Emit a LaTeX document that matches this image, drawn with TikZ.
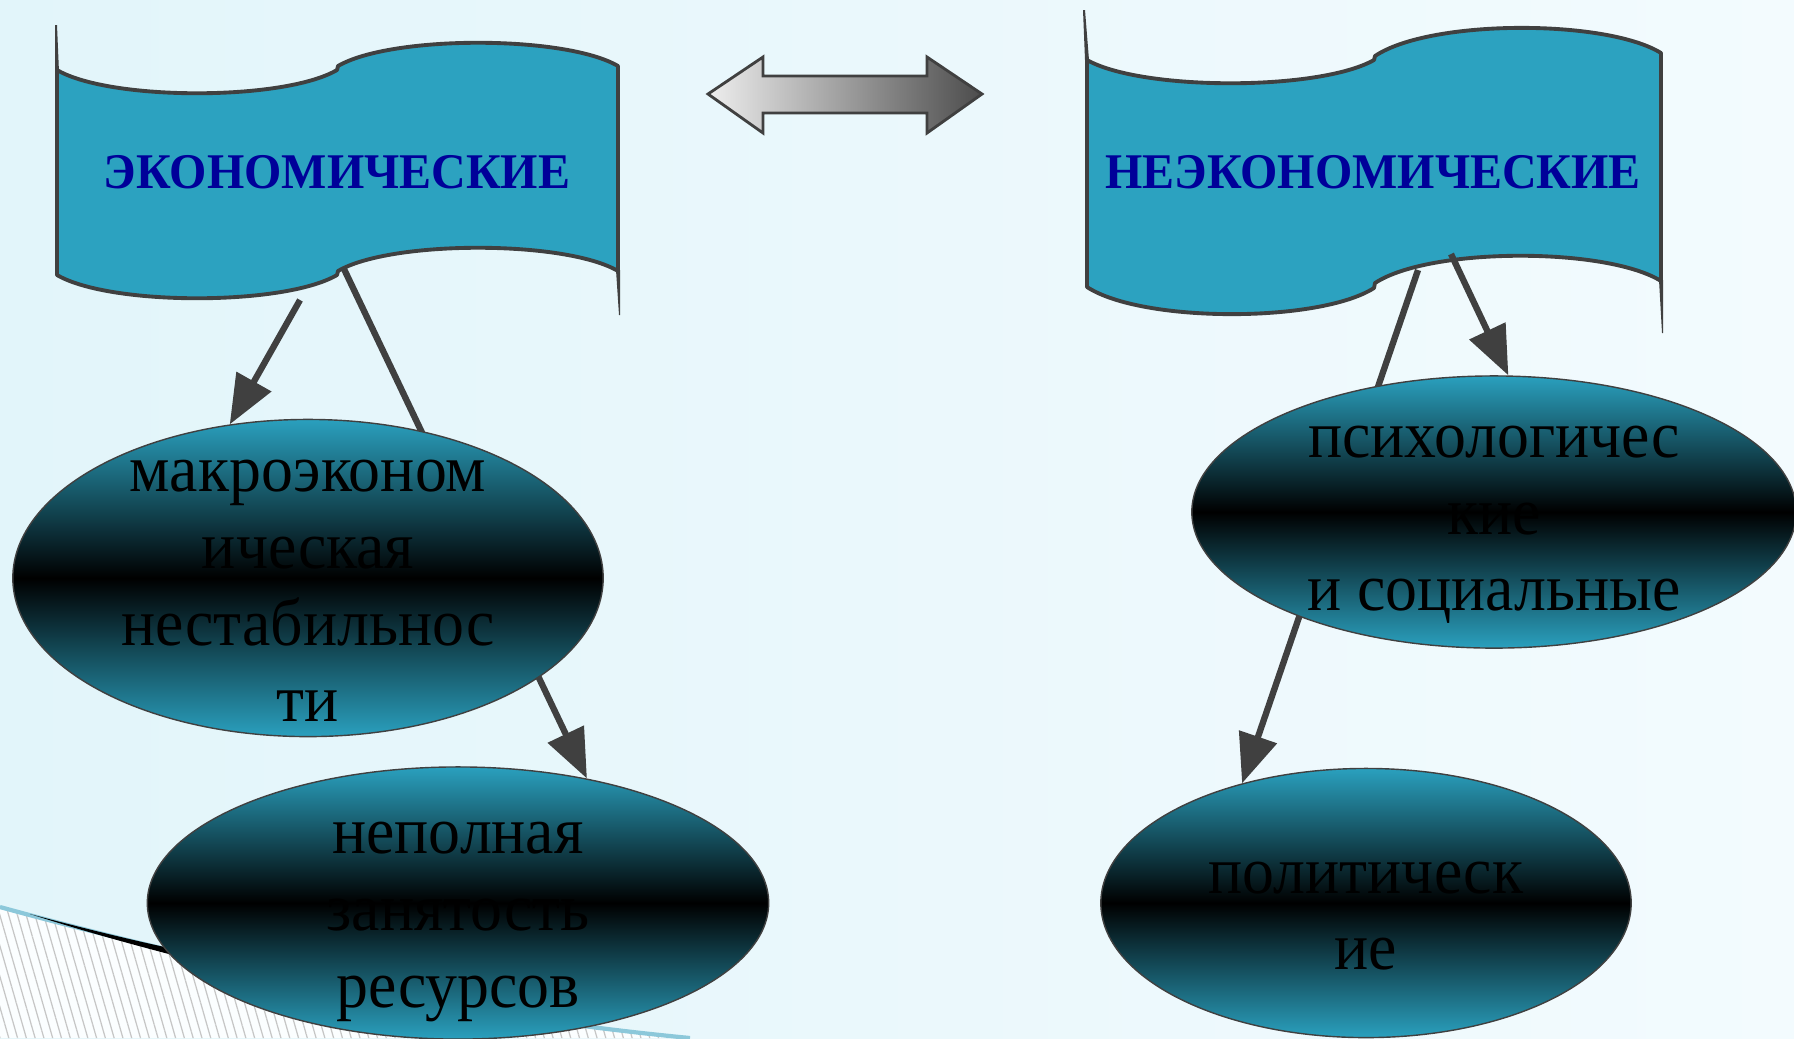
\documentclass[tikz,border=0pt]{standalone}
\usepackage{fontspec}
\setmainfont{Liberation Serif}
\newfontfamily\ovalfont{Liberation Serif}[FakeStretch=0.955]
\newfontfamily\flagfont{Liberation Serif}[FakeStretch=0.96]
\usetikzlibrary{arrows.meta,shapes.geometric,patterns.meta}
\definecolor{flagblue}{RGB}{44,162,192}
\definecolor{ovalteal}{RGB}{42,160,190}
\definecolor{linegray}{RGB}{64,64,64}
\definecolor{titleblue}{RGB}{0,0,153}
\definecolor{bgleft}{RGB}{226,245,250}
\definecolor{bgright}{RGB}{243,251,254}
\definecolor{edgeblue}{RGB}{140,200,218}

\begin{document}
\begin{tikzpicture}[x=0.01cm, y=-0.01cm,
  flag/.style={fill=flagblue, draw=linegray, line width=1.1pt, line join=round},
  oval/.style={ellipse, draw=linegray, line width=0.4pt, top color=ovalteal,
    bottom color=ovalteal, middle color=black, inner sep=0pt},
  ovaltext/.style={align=center, yshift=-0.13cm, font=\ovalfont\fontsize{19}{21.8}\selectfont},
  title/.style={font=\flagfont\fontsize{14.2}{16}\selectfont\bfseries, text=titleblue},
  link/.style={draw=linegray, line width=1.8pt, -{Triangle[length=14pt, width=11pt]}}]
  \shade[left color=bgleft, right color=bgright] (0,0) rectangle (1794,1038);
  \useasboundingbox (0,0) rectangle (1794,1038);

  \fill[white!70!bgright] (0,907) .. controls (200,962) and (450,1015) .. (690,1038) -- (0,1038) -- cycle;
  \fill[pattern={Lines[angle=-74, distance=2.4pt, line width=0.35pt]}, pattern color=gray!45]
    (0,907) .. controls (200,962) and (450,1015) .. (690,1038) -- (0,1038) -- cycle;
  \draw[edgeblue, line width=1.2pt] (0,907) .. controls (200,962) and (450,1015) .. (690,1038);
  \fill[black] (30,914) .. controls (90,930) and (140,942) .. (188,952) -- (188,959) .. controls (130,944) and (80,930) .. cycle;

  % flags
  \path[flag] (57,70) .. controls (110,101) and (284,101) .. (337,70) -- (338,66)
    .. controls (391,35) and (565,35) .. (618,66) -- (618,271)
    .. controls (565,240) and (391,240) .. (338,271) -- (337,275)
    .. controls (284,306) and (110,306) .. (57,275) -- cycle;
  \fill[linegray] (55,25) -- (57,25) -- (59,72) -- (55,72) -- cycle;
  \fill[linegray] (616,270) -- (620,270) -- (620,315) -- (619,315) -- cycle;
  \path[flag] (1087,60) .. controls (1142,91) and (1319,91) .. (1374,60) -- (1375,56)
    .. controls (1430,19) and (1606,19) .. (1661,53) -- (1661,281)
    .. controls (1606,247) and (1430,247) .. (1375,283) -- (1374,288)
    .. controls (1319,323) and (1142,323) .. (1087,287) -- cycle;
  \fill[linegray] (1083,10) -- (1085,10) -- (1089,60) -- (1085,60) -- cycle;
  \fill[linegray] (1659,280) -- (1663,280) -- (1663,333) -- (1662,333) -- cycle;
  \node[title] (b1) at (337,172) {ЭКОНОМИЧЕСКИЕ};
  \node[title] (b2) at (1373,172) {НЕЭКОНОМИЧЕСКИЕ};

  \path[draw=linegray, line width=0.8pt, left color={rgb,255:red,238;green,238;blue,238},
    right color={rgb,255:red,76;green,76;blue,76}]
    (708,94) -- (763,57) -- (763,76) -- (927,76) -- (927,57) -- (982,94) -- (927,133)
    -- (927,113) -- (763,113) -- (763,133) -- cycle;

  \coordinate (b1a) at (300,300);
  \coordinate (b1b) at (344,269);
  \coordinate (b2a) at (1418,270);
  \coordinate (b2b) at (1451,254);

  \node[oval, minimum width=6.21cm, minimum height=2.72cm] (e2) at (458,903) {};
  \node[oval, minimum width=5.30cm, minimum height=2.69cm] (e4) at (1366,903) {};
  \draw[link] (b1b) -- (e2.44);
  \draw[link] (b2a) -- (e4.136);
  \node[oval, minimum width=5.90cm, minimum height=3.17cm] (e1) at (308,578) {};
  \node[oval, minimum width=6.04cm, minimum height=2.72cm] (e3) at (1494,512) {};
  \draw[link] (b1a) -- (e1.117);
  \draw[link] (b2b) -- (e3.84);

  \node[ovaltext] (t1) at (e1.center) {макроэконом\\ическая\\нестабильнос\\ти};
  \node[ovaltext] (t2) at (458,909) {неполная\\занятость\\ресурсов};
  \node[ovaltext] (t3) at (e3.center) {психологичес\\кие\\и социальные};
  \node[ovaltext] (t4) at (e4.center) {политическ\\ие};
\end{tikzpicture}
\end{document}
